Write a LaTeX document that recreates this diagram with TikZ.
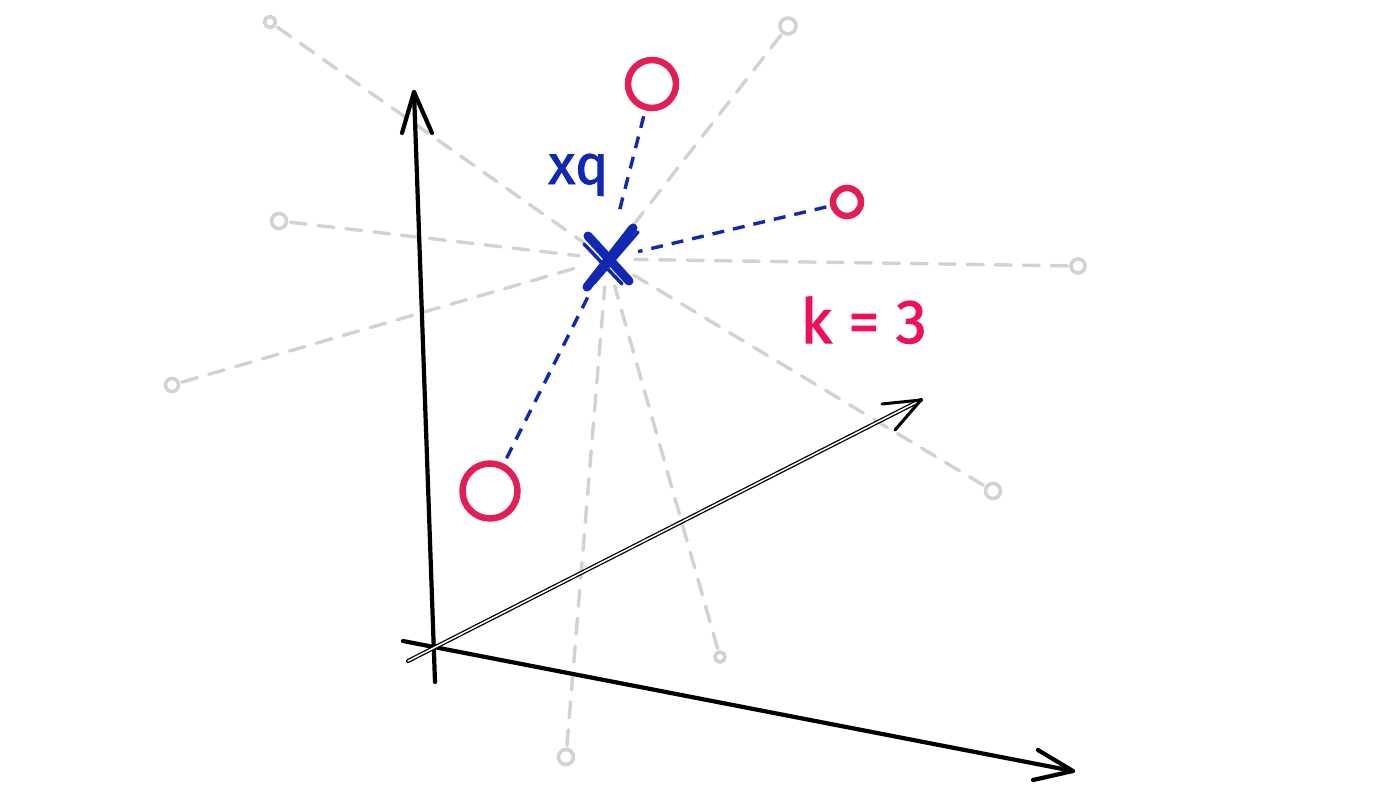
\documentclass[tikz,border=0pt]{standalone}
\usepackage{fontspec}
\setmainfont{Fira Sans}
\newfontfamily\boldish[FakeBold=1.6]{Fira Sans}
\usetikzlibrary{calc}
\definecolor{qblue}{RGB}{18,40,178}
\definecolor{nred}{RGB}{225,30,85}
\definecolor{kpink}{RGB}{240,15,95}
\definecolor{lgray}{RGB}{210,210,210}
\begin{document}
\begin{tikzpicture}[x=1pt,y=-1pt,
  gdot/.style={circle,draw=lgray,line width=3.6pt,inner sep=0pt,minimum size=#1},
  gdot/.default=12pt,
  gline/.style={draw=lgray,line width=3.4pt,dash pattern=on 16pt off 12pt,line cap=round,shorten <=2pt,shorten >=28pt},
  rdot/.style={circle,draw=nred,line width=6.5pt,inner sep=0pt,minimum size=#1},
  qdash/.style={draw=qblue,line width=3.4pt,dash pattern=on 12pt off 9pt},
  axis/.style={line width=4.2pt,line cap=round,line join=round},
  xstroke/.style={draw=qblue,line width=9pt,line cap=round}]
\useasboundingbox (0,0) rectangle (1400,787);
\fill[white] (0,0) rectangle (1400,787);
% query point
\coordinate (q) at (607,259);
% gray points
\node[gdot=11pt] (g1) at (270,22) {};
\node[gdot=16pt] (g2) at (788,26) {};
\node[gdot=15pt] (g3) at (279,221) {};
\node[gdot=14pt] (g4) at (1078,266) {};
\node[gdot=13pt] (g5) at (172,385) {};
\node[gdot=15pt] (g6) at (993,491) {};
\node[gdot=10pt] (g7) at (720,657) {};
\node[gdot=15pt] (g8) at (566,757) {};
\foreach \g in {g1,g2,g3,g4,g5,g6,g7,g8}{\draw[gline] (\g) -- (q);}
% red neighbours
\node[rdot=48pt] (n1) at (652,84) {};
\node[rdot=28pt] (n2) at (847,202) {};
\node[rdot=55pt] (n3) at (490,491) {};
\draw[qdash,shorten <=6pt,shorten >=48pt] (n1) -- (q);
\draw[qdash,shorten <=4pt,shorten >=32pt] (n2) -- (q);
\draw[qdash,shorten <=6pt,shorten >=36pt] (n3) -- (q);
% axes
\coordinate (O) at (433,648);
\coordinate (vb) at (435,682);
\coordinate (vt) at (414,92);
\coordinate (hb) at (403,641);
\coordinate (ht) at (1073,771);
\coordinate (db) at (408,661);
\coordinate (dt) at (921,400);
\draw[axis] (vb) -- (vt);
\draw[axis] (402,133) -- (vt) -- (432,133);
\draw[axis] (hb) -- (ht);
\draw[axis] (1038,750) -- (ht) -- (1033,780);
\draw[line width=1.3pt,double=white,double distance=1.5pt,line cap=round] (db) -- (dt);
\draw[line width=3pt,line cap=round,line join=round] (882,404) -- (dt) -- (895,430);
% the X
\draw[xstroke] (587,287) -- (633,228);
\draw[xstroke] (588,236) -- (629,281);
\draw[draw=qblue,line width=3.5pt,line cap=round] (584,244) -- (622,284);
\draw[draw=qblue,line width=3.5pt,line cap=round] (594,283) -- (638,232);
% labels
\node[anchor=base west,inner sep=0pt,text=qblue,font=\boldish\fontsize{56}{60}\selectfont] (lq) at (548,184) {xq};
\node[anchor=base west,inner sep=0pt,text=kpink,font=\boldish\fontsize{62}{66}\selectfont] (lk) at (800,343) {k = 3};
\end{tikzpicture}
\end{document}
